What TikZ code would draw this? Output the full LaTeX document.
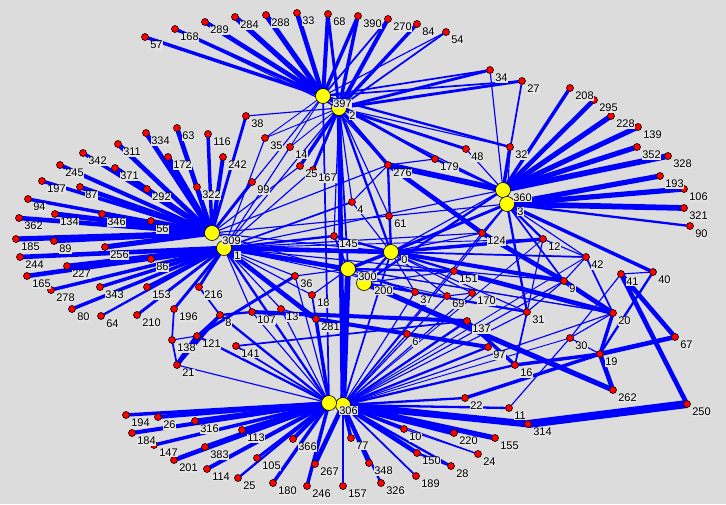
\documentclass[tikz,border=0pt]{standalone}
\usepackage{fontspec}
\setmainfont{Liberation Sans}
\definecolor{bgc}{RGB}{220,220,220}
\definecolor{lnk}{RGB}{0,0,255}
\definecolor{hubc}{RGB}{255,255,0}
\definecolor{leafc}{RGB}{255,0,0}
\definecolor{labbg}{RGB}{228,228,228}
\pgfdeclarelayer{bgl}
\pgfdeclarelayer{edges}
\pgfsetlayers{bgl,edges,main}
\begin{document}
\begin{tikzpicture}[x=1pt,y=-1pt,
  leaf/.style={circle,fill=leafc,draw=black,line width=0.6pt,minimum size=7pt,inner sep=0pt},
  hub/.style={circle,fill=hubc,draw=black,line width=0.6pt,minimum size=15pt,inner sep=0pt},
  lab/.style={font=\fontsize{11}{12}\selectfont,inner sep=0.6pt,fill=labbg,anchor=north west},
  lk/.style={draw=lnk,line width=#1}]
\begin{pgfonlayer}{bgl}
\fill[bgc] (0,0) rectangle (726,504);
\end{pgfonlayer}
\useasboundingbox (0,0) rectangle (726,504);
% leaves
\foreach \nm/\x/\y in {57/145/37,168/175/29,289/205/22,284/235/17,288/266/15,33/297/13,68/328/14,390/358/16,270/388/19,84/417/24,54/446/32,34/490/70,27/522/81,32/510/147,48/466/149,179/435/159,276/388/165,208/570/88,295/594/100,228/611/116,139/638/127,352/637/147,328/668/156,193/660/176,106/684/189,321/684/208,90/690/226,12/543/239,42/586/257,40/653/272,41/621/274,9/564/281,20/613/313,31/527/312,30/570/338,19/600/354,67/675/337,262/613/390,250/687/404,124/482/233,151/454/271,61/389/216,4/352/202,145/334/236,37/415/292,69/447/296,170/472/293,137/467/321,6/407/334,97/488/347,16/515/365,22/465/398,11/509/408,314/528/424,10/404/429,220/454/433,155/495/438,24/478/454,150/417/453,28/451/466,348/369/463,189/416/476,326/381/483,77/351/438,157/343/486,246/307/486,267/315/464,180/273/483,366/293/439,105/257/458,25/238/478,114/207/469,383/205/447,113/242/430,316/195/421,201/174/460,147/154/445,184/132/433,26/158/417,194/126/415,21/177/365,138/172/340,121/197/336,141/236/346,8/220/315,107/252/312,13/281/309,281/316/319,18/312/295,36/295/276,216/199/287,196/174/309,210/137/315,64/101/316,80/72/309,153/147/287,343/100/287,278/51/290,165/27/276,86/151/259,227/67/266,244/20/257,256/105/247,89/54/241,185/16/239,56/151/221,346/102/214,134/55/214,362/19/218,94/28/199,292/147/189,87/80/187,197/42/181,371/115/168,245/60/165,342/83/153,311/118/144,334/146/133,172/168/157,63/177/128,116/208/134,242/223/157,322/197/187,99/252/182,38/246/116,35/265/138,14/290/147,167/313/170}
  {\node[leaf] (n\nm) at (\x,\y) {};}
\node[leaf] (n25b) at (300,166) {};
% hubs
\foreach \nm/\x/\y in {397/323/96,2/339/108,309/212/233,1/224/248,360/503/190,3/507/204,0/391/252,300/348/269,200/364/283,306b/343/405,306/329/403}
  {\node[hub] (n\nm) at (\x,\y) {};}
% edges
\begin{pgfonlayer}{edges}
\foreach \a/\b/\w in {
397/57/3,397/168/3,2/168/1,397/289/4,397/284/4.5,397/288/4.5,397/33/4,397/68/3.5,2/68/2.5,397/390/3,2/390/3,2/270/3.5,397/270/1.5,2/84/3,2/54/1.5,397/54/1,2/34/2.5,397/34/1.5,2/27/2.5,397/27/1.5,397/32/2,2/32/1,2/48/2.5,397/179/2.5,2/38/1,397/35/0.8,2/35/0.8,397/14/0.8,2/14/0.8,2/25b/3,2/167/2.5,2/306b/4,397/306/1.5,2/0/2,2/300/1.5,2/61/1,2/4/1,397/309/1,2/1/1,2/145/1,2/276/3,397/276/1,2/360/1,
309/63/4,309/172/4.5,309/334/4,309/311/4,309/342/3,309/245/3.5,309/371/4.5,309/197/3,309/87/4,309/292/4,309/94/3,309/134/4.5,309/346/4,309/56/4,309/362/4,309/185/4.5,309/89/4,309/256/4.5,1/244/4,1/227/4,1/86/4,1/165/4,1/278/3,1/343/3,1/153/3,1/80/3,1/64/2,1/210/2.5,1/196/2.5,1/216/2.5,309/116/3,309/242/3.5,309/322/3.5,309/99/2.5,309/38/2.5,1/35/1,1/14/1,309/25b/1,1/167/1,1/4/1.5,1/145/2,309/61/1,1/0/4,1/300/4,309/0/1,1/36/1,1/18/1,1/281/4,1/107/1,1/13/1,1/306/2,309/276/1,1/360/1,1/124/1,1/151/1,309/37/1,1/69/0.8,1/12/0.8,1/20/0.8,1/42/0.8,
360/208/3,360/295/4,360/228/4.5,360/139/4.5,360/352/4.5,360/328/5,3/193/4.5,3/106/4.5,3/321/5,3/90/2,360/32/3,3/32/1,360/27/1.5,360/34/1,276/360/5,3/12/2,3/124/1.5,3/40/3,3/42/1,3/9/1.5,3/0/2.5,360/0/1,360/179/2,360/48/1,3/61/1,3/151/1,3/31/2,360/200/2,
0/61/1,0/4/1,0/145/2,0/124/1,0/151/2,0/37/1,0/69/1,0/300/3,0/200/2,0/276/2,0/12/3,0/42/1.5,0/9/3.5,0/170/1,0/306b/1.5,0/31/1,
276/124/4,124/9/4,276/179/1,276/4/1,
300/306b/5,300/145/1.5,300/36/1,300/18/1,300/37/1,300/151/2,300/20/1,200/262/4.5,200/31/2,200/151/1,200/37/1.5,151/20/4,151/9/1,170/69/1,
9/42/1,9/20/4,9/31/1,42/20/1.5,12/42/1,40/19/2,41/30/1,41/250/4,41/67/4,40/41/1,20/19/3,19/262/4,19/67/4,16/19/3,22/19/3,314/250/7,31/16/1.5,30/11/1,30/19/1,20/30/1,12/31/1,
306/194/3,306/26/3.5,306/184/3.5,306/147/3,306/201/4,306/316/4,306/113/3.5,306/383/4,306/114/3.5,306/105/2.5,306/25/2,306/180/3,306/366/3.5,306b/267/4,306/246/3,306b/157/2.5,306b/77/3,306b/348/3.5,306b/326/2,306b/189/1.5,306b/150/4,306b/10/3,306b/28/2,306b/220/4.5,306b/24/1,306b/155/4.5,306b/22/2,306b/11/2,306b/314/6,306b/16/2,306b/97/2,306b/137/2,306b/6/1,306/281/3,306/141/1.5,306/21/1,306/121/2,306/8/2,306/36/1,306/13/1,306/107/1,306/18/1.5,306b/151/1,306b/69/1,306b/170/1,306b/124/1,306b/9/1,306b/42/0.8,306b/30/0.8,306b/31/1,306b/20/1,306b/12/0.8,306b/37/1,
10/24/1,150/28/2,21/121/4,21/8/3,138/121/1,196/138/1.5,138/21/1.5,121/8/2,8/107/2,107/137/3.5,281/97/3.5,137/16/3,141/137/1.5,36/121/2.5,216/8/1.5,13/281/1}
  {\draw[lk=1.15*\w pt] (n\a.center) -- (n\b.center);}
\end{pgfonlayer}
% leaf labels
\foreach \nm in {57,168,289,284,288,33,68,390,270,84,54,34,27,32,48,179,276,208,295,228,139,352,328,193,106,321,90,12,42,40,41,9,20,31,30,19,67,262,250,124,151,61,4,145,37,69,170,137,6,97,16,22,11,314,10,220,155,24,150,28,348,189,326,77,157,246,267,180,366,105,25,114,383,113,316,201,147,184,26,194,21,138,121,141,8,107,13,281,18,36,216,196,210,64,80,153,343,278,165,86,227,244,256,89,185,56,346,134,362,94,292,87,197,371,245,342,311,334,172,63,116,242,322,99,38,35,14,167}
  {\node[lab] at ([shift={(4.5,3.5)}]n\nm.center) {\nm};}
\node[lab] at ([shift={(4.5,3.5)}]n25b.center) {25};
% hub labels
\foreach \nm in {397,2,309,1,360,3,0,300,200,306}
  {\node[lab] at ([shift={(9.5,3)}]n\nm.center) {\nm};}
\end{tikzpicture}
\end{document}
